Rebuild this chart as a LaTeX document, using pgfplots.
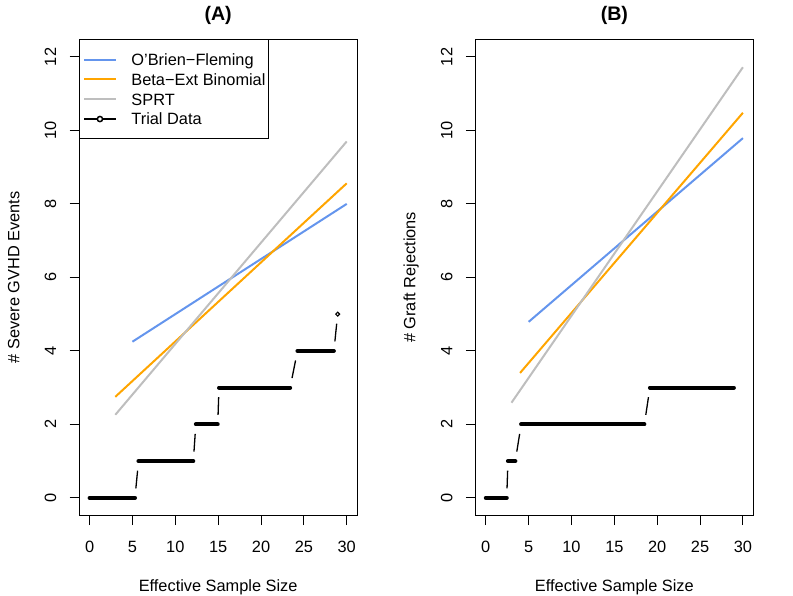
\documentclass[border=0pt]{standalone}
\usepackage{fontspec}
\setmainfont{Liberation Sans}
\usepackage{pgfplots}
\pgfplotsset{compat=1.18}

\definecolor{obf}{RGB}{100,149,237}
\definecolor{beb}{RGB}{255,165,0}
\definecolor{sprt}{RGB}{190,190,190}

\newcommand{\rfont}{\fontsize{16.35}{19.8}\selectfont}

\pgfplotsset{
  rpanel/.style={
    scale only axis, width=277.7pt, height=476.2pt, anchor=south west,
    xmin=-1.2, xmax=31.2, ymin=-0.48, ymax=12.48,
    xtick={0,5,...,30}, ytick={0,2,...,12},
    tick pos=left, tick align=outside, major tick length=9.6pt,
    axis line style={line width=0.9pt},
    tick style={line width=0.9pt, black},
    /pgf/number format/assume math mode=true,
    tick label style={font=\rfont},
    label style={font=\rfont},
    xticklabel style={anchor=base, yshift=-27.4pt},
    yticklabel style={xshift=-13.6pt, rotate=90, anchor=base},
    title style={font=\bfseries\fontsize{19.6}{23}\selectfont,
      at={(axis description cs:0.5,1.02646)}, anchor=base},
    xlabel style={at={(axis description cs:0.5,-0.1600)}, anchor=base},
    ylabel style={at={(axis description cs:-0.2161,0.5)}, anchor=base},
    xlabel={Effective Sample Size},
  },
  bound/.style={line width=2pt,
    legend image code/.code={\draw[##1] (0pt,0pt) -- (31.6pt,0pt);}},
  trialbar/.style={black, line width=4pt, line cap=round, forget plot},
  trialjump/.style={black, line width=1.3pt, forget plot},
  trialpt/.style={black, only marks, mark=o, mark size=1.9pt,
    mark options={line width=1.1pt}, forget plot},
}

\begin{document}
\begin{tikzpicture}
\useasboundingbox (0,0) rectangle (793pt,595pt);

% (A) severe GVHD events
\begin{axis}[rpanel, at={(79.3pt,79.5pt)},
  title={(A)}, ylabel={\# Severe GVHD Events},
  legend cell align=left,
  legend style={at={(0,1)}, anchor=north west, draw=black, line width=0.9pt,
    fill=white, inner xsep=3.4pt, inner ysep=10pt, row sep=0pt,
    column sep=14.7pt, font=\rfont,
    nodes={inner sep=0pt, text height=15.75pt, text depth=4.05pt}},
]
\addplot[bound, obf] coordinates {(5,4.25) (30,8.00)};
\addlegendentry{O'Brien−Fleming}
\addplot[bound, beb] coordinates {(3,2.75) (30,8.56)};
\addlegendentry{Beta−Ext Binomial}
\addplot[bound, sprt] coordinates {(3,2.26) (30,9.70)};
\addlegendentry{SPRT}
\addlegendimage{black, legend image code/.code={
  \draw[black, line width=2pt] (0pt,0pt) -- (12.6pt,0pt);
  \draw[black, line width=2pt] (19pt,0pt) -- (31.6pt,0pt);
  \draw[black, line width=1.5pt] (15.8pt,0pt) circle (2.6pt);}}
\addlegendentry{Trial Data}

\addplot[trialbar] coordinates {(0,0) (5.3,0)};
\addplot[trialbar] coordinates {(5.7,1) (12.1,1)};
\addplot[trialbar] coordinates {(12.4,2) (14.95,2)};
\addplot[trialbar] coordinates {(15.1,3) (23.4,3)};
\addplot[trialbar] coordinates {(24.25,4) (28.5,4)};
\addplot[trialpt] coordinates {(28.95,5)};
\addplot[trialjump] coordinates {(5.40,0.26) (5.60,0.74)};
\addplot[trialjump] coordinates {(12.18,1.26) (12.32,1.74)};
\addplot[trialjump] coordinates {(14.99,2.26) (15.06,2.74)};
\addplot[trialjump] coordinates {(23.62,3.26) (24.03,3.74)};
\addplot[trialjump] coordinates {(28.62,4.26) (28.83,4.74)};
\end{axis}

% (B) graft rejections
\begin{axis}[rpanel, at={(475.5pt,79.5pt)},
  title={(B)}, ylabel={\# Graft Rejections}]
\addplot[bound, obf] coordinates {(5,4.79) (30,9.79)};
\addplot[bound, beb] coordinates {(4,3.40) (30,10.48)};
\addplot[bound, sprt] coordinates {(3,2.59) (30,11.72)};

\addplot[trialbar] coordinates {(0,0) (2.45,0)};
\addplot[trialbar] coordinates {(2.58,1) (3.45,1)};
\addplot[trialbar] coordinates {(4.12,2) (18.5,2)};
\addplot[trialbar] coordinates {(19.15,3) (28.95,3)};
\addplot[trialjump] coordinates {(2.48,0.26) (2.55,0.74)};
\addplot[trialjump] coordinates {(3.62,1.26) (3.95,1.74)};
\addplot[trialjump] coordinates {(18.67,2.26) (18.98,2.74)};
\end{axis}
\end{tikzpicture}
\end{document}
